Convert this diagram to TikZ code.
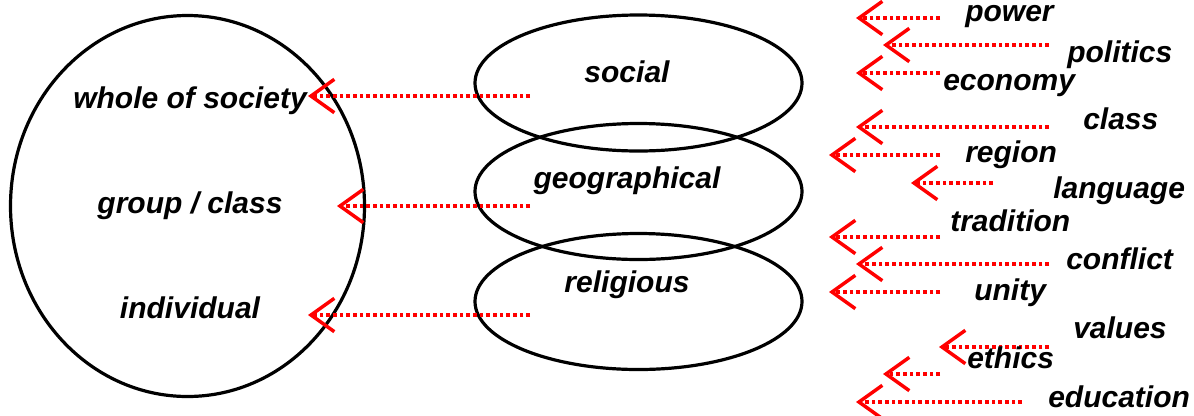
\documentclass[tikz,border=0pt]{standalone}
\usepackage{fontspec}
\setmainfont{Liberation Sans}
\usetikzlibrary{arrows.meta,shapes.geometric}
\tikzset{
ring/.style={draw=black,line width=2.4pt,ellipse,inner sep=0pt,outer sep=0pt},
lbl/.style={font=\fontsize{22.5}{27}\selectfont\bfseries\itshape,inner sep=0pt},
link/.style={red,line width=2.8pt,dash pattern=on 2.8pt off 2.2pt,
  -{Straight Barb[length=17.5pt,width=25pt,line width=2.6pt]}}
}

\begin{document}
\begin{tikzpicture}[x=0.75pt,y=-0.75pt]
\useasboundingbox (0,0) rectangle (1194,415);
% levels
\node[ring,minimum width=265.5pt,minimum height=285.75pt] (levels) at (187.5,206) {};
\node[lbl,anchor=base] (whole) at (190,108) {whole of society};
\node[lbl,anchor=base] (group) at (190,213) {group / class};
\node[lbl,anchor=base] (indiv) at (190,318) {individual};
% spheres
\node[ring,minimum width=245.25pt,minimum height=102pt] (socring) at (638.5,83) {};
\node[ring,minimum width=245.25pt,minimum height=102pt] (georing) at (638.5,191.5) {};
\node[ring,minimum width=245.25pt,minimum height=102pt] (relring) at (638.5,301.5) {};
\node[lbl,anchor=base] (social) at (627,82) {social};
\node[lbl,anchor=base] (geo) at (627,188) {geographical};
\node[lbl,anchor=base] (relig) at (627,292) {religious};
\coordinate (soc-s) at (530,96);
\coordinate (soc-t) at (308,96);
\coordinate (geo-s) at (530,206);
\coordinate (geo-t) at (337,206);
\coordinate (rel-s) at (530,315);
\coordinate (rel-t) at (308,315);
\draw[link] (soc-s) -- (soc-t);
\draw[link] (geo-s) -- (geo-t);
\draw[link] (rel-s) -- (rel-t);
% factors
\foreach \name/\lx/\ly/\tx/\ex/\ay in {
  power/965/21/856/940/18,
  politics/1067/62/883/1049/45,
  economy/943/90/856/940/73,
  class/1083/129/856/1049/127,
  region/965/162/829/940/155,
  language/1053/198/911/993/183,
  tradition/950/231/829/940/237,
  conflict/1066/269/856/1049/264,
  unity/974/300/829/940/292,
  values/1073/338/939/1049/347,
  ethics/967/368/883/940/374,
  education/1048/407/856/1022/402}{
  \node[lbl,anchor=base west] (\name) at (\lx,\ly) {\name};
  \coordinate (\name-s) at (\ex,\ay);
  \coordinate (\name-t) at (\tx,\ay);
  \draw[link] (\name-s) -- (\name-t);
}
\end{tikzpicture}
\end{document}
